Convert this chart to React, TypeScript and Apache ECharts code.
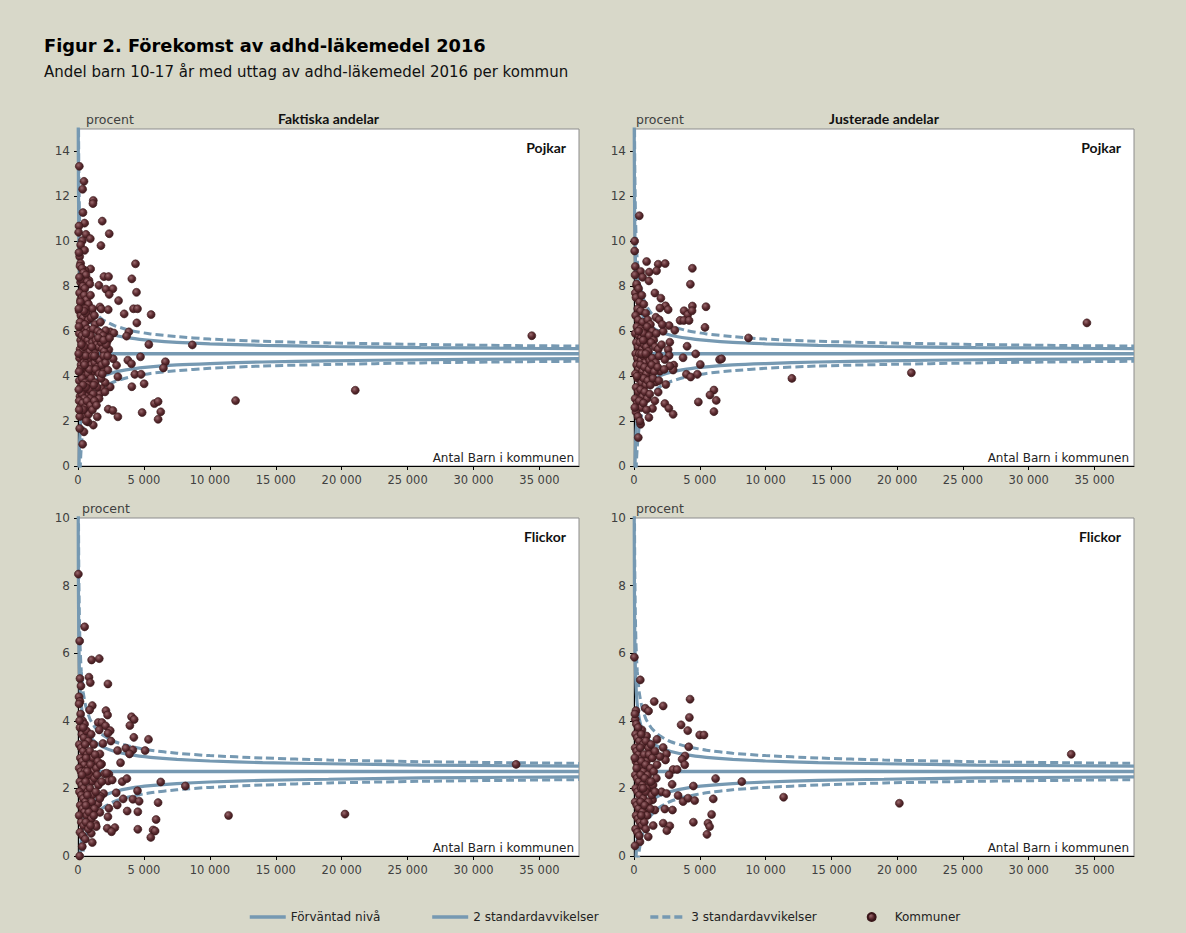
import React, { useEffect, useRef } from 'react';
import * as echarts from 'echarts';

// ---------- tick labels ----------
const xTicks = [0, 5000, 10000, 15000, 20000, 25000, 30000, 35000];
const boysYTicks = [0, 2, 4, 6, 8, 10, 12, 14];
const girlsYTicks = [0, 2, 4, 6, 8, 10];

// ---------- expected level and control limits ----------
const levelN = [0, 38000];
const boysLevel = [5.0, 5.0];
const girlsLevel = [2.5, 2.5];

const curveN = [10, 20, 35, 60, 100, 160, 250, 400, 600, 900, 1300, 1900, 2800, 4000, 5500, 7500, 10000, 14000, 19000, 26000, 33000, 38000];
const boysUpper2 = [18.79, 14.75, 12.37, 10.63, 9.36, 8.45, 7.76, 7.18, 6.78, 6.45, 6.21, 6.0, 5.82, 5.69, 5.59, 5.5, 5.44, 5.37, 5.32, 5.27, 5.24, 5.22];
const boysLower2 = [-8.79, -4.75, -2.37, -0.63, 0.64, 1.55, 2.24, 2.82, 3.22, 3.55, 3.79, 4.0, 4.18, 4.31, 4.41, 4.5, 4.56, 4.63, 4.68, 4.73, 4.76, 4.78];
const boysUpper3 = [25.68, 19.62, 16.05, 13.44, 11.54, 10.17, 9.14, 8.27, 7.67, 7.18, 6.81, 6.5, 6.24, 6.03, 5.88, 5.76, 5.65, 5.55, 5.48, 5.41, 5.36, 5.34];
const boysLower3 = [-15.68, -9.62, -6.05, -3.44, -1.54, -0.17, 0.86, 1.73, 2.33, 2.82, 3.19, 3.5, 3.76, 3.97, 4.12, 4.24, 4.35, 4.45, 4.52, 4.59, 4.64, 4.66];
const girlsUpper2 = [12.37, 9.48, 7.77, 6.53, 5.62, 4.97, 4.47, 4.06, 3.77, 3.54, 3.37, 3.22, 3.09, 2.99, 2.92, 2.86, 2.81, 2.76, 2.73, 2.69, 2.67, 2.66];
const girlsLower2 = [-7.37, -4.48, -2.77, -1.53, -0.62, 0.03, 0.53, 0.94, 1.23, 1.46, 1.64, 1.78, 1.91, 2.01, 2.08, 2.14, 2.19, 2.24, 2.27, 2.31, 2.33, 2.34];
const girlsUpper3 = [17.3, 12.97, 10.41, 8.54, 7.18, 6.2, 5.46, 4.84, 4.41, 4.06, 3.8, 3.57, 3.38, 3.24, 3.13, 3.04, 2.97, 2.9, 2.84, 2.79, 2.76, 2.74];
const girlsLower3 = [-12.3, -7.97, -5.41, -3.54, -2.18, -1.2, -0.46, 0.16, 0.59, 0.94, 1.2, 1.43, 1.62, 1.76, 1.87, 1.96, 2.03, 2.1, 2.16, 2.21, 2.24, 2.26];

// ---------- municipalities: [number of children, percent] ----------
const boysActual = [
  [100, 13.34], [454, 12.67], [353, 12.32], [1160, 11.82], [1134, 11.68], [378, 11.28], [504, 10.81], [76, 10.68], [50, 10.4], [605, 10.31],
  [1840, 10.9], [2370, 10.34], [933, 10.12], [328, 10.03], [200, 9.84], [1740, 9.81], [504, 9.6], [4361, 9.0], [126, 9.32], [200, 9.02],
  [958, 8.77], [530, 8.7], [1966, 8.43], [2319, 8.43], [4084, 8.33], [832, 8.26], [200, 8.18], [580, 8.04], [1588, 8.04], [2118, 7.87],
  [2647, 7.89], [4437, 7.73], [2370, 7.64], [328, 7.84], [3076, 7.36], [200, 7.4], [706, 7.28], [1664, 7.08], [1765, 6.99], [2294, 6.96],
  [4210, 7.0], [4513, 7.0], [3504, 6.77], [5546, 6.74], [1084, 6.77], [227, 6.88], [4462, 6.37], [3857, 5.97], [3680, 5.78], [5370, 5.41],
  [8672, 5.39], [4740, 4.86], [3781, 4.71], [4059, 4.55], [6630, 4.64], [6479, 4.36], [4311, 4.08], [4790, 4.08], [3025, 3.97], [5017, 3.66],
  [4084, 3.53], [2445, 3.52], [2067, 3.71], [11950, 2.91], [5798, 2.78], [6075, 2.87], [6277, 2.41], [6075, 2.08], [4866, 2.38], [2294, 2.53],
  [2647, 2.47], [3025, 2.19], [1462, 2.19], [1160, 1.82], [756, 1.96], [454, 1.52], [353, 0.97], [126, 1.67], [2924, 4.48], [2672, 4.77],
  [2344, 5.18], [2219, 5.55], [2445, 5.97], [2722, 5.92], [2093, 6.03], [1916, 4.28], [2269, 4.27], [1790, 3.44], [1639, 3.21], [21030, 3.37],
  [34418, 5.8],
  [150, 8.9], [300, 8.8], [420, 8.6], [600, 8.5], [250, 8.3], [700, 8.2], [380, 8.0], [900, 8.1], [520, 7.9],
  [120, 7.7], [330, 7.5], [480, 7.6], [650, 7.4], [800, 7.2], [260, 7.1], [950, 7.6], [1100, 7.0], [560, 7.0], [180, 7.3],
  [90, 6.9], [220, 6.7], [400, 6.6], [600, 6.8], [780, 6.5], [1000, 6.6], [1300, 6.3], [150, 6.4], [350, 6.2], [520, 6.3],
  [700, 6.1], [900, 6.0], [1150, 6.1], [1500, 6.0], [1700, 5.9], [1900, 5.8], [250, 6.0], [450, 6.9], [1250, 6.7],
  [100, 5.9], [200, 5.6], [300, 5.8], [420, 5.5], [550, 5.7], [650, 5.3], [750, 5.6], [850, 5.4], [980, 5.8], [1100, 5.5],
  [1200, 5.2], [1350, 5.6], [1450, 5.4], [1600, 5.3], [1750, 5.5], [1850, 5.2], [2000, 5.1], [160, 5.2], [380, 5.1], [480, 5.3],
  [700, 5.0], [900, 5.1], [1050, 5.3], [1300, 5.0], [1550, 5.7], [2150, 5.4], [260, 5.4], [600, 5.9],
  [120, 4.8], [230, 4.5], [340, 4.9], [450, 4.6], [560, 4.3], [680, 4.7], [800, 4.4], [920, 4.8], [1020, 4.5], [1150, 4.2],
  [1280, 4.6], [1400, 4.8], [1500, 4.4], [1650, 4.7], [1800, 4.5], [1950, 4.9], [2100, 4.6], [300, 4.2], [420, 4.0], [600, 4.9],
  [750, 4.1], [880, 4.3], [1100, 4.9], [1350, 4.3], [1600, 4.1], [180, 4.3], [500, 4.5], [1250, 4.9],
  [100, 3.8], [200, 3.5], [320, 3.9], [430, 3.3], [540, 3.7], [650, 3.1], [760, 3.6], [880, 3.4], [1000, 3.9], [1150, 3.2],
  [1300, 3.7], [1450, 3.5], [1600, 3.0], [1750, 3.9], [150, 3.1], [280, 3.2], [600, 3.5], [900, 3.0], [1200, 3.6], [380, 3.6], [480, 3.0],
  [90, 2.9], [180, 2.6], [260, 2.4], [350, 2.8], [450, 2.2], [560, 2.6], [680, 2.9], [800, 2.3], [950, 2.7], [1100, 2.5],
  [1250, 2.9], [130, 2.2], [620, 2.0], [400, 2.5],
  [60, 7.0], [70, 6.2], [50, 5.0], [80, 4.2], [60, 3.4], [90, 2.5], [70, 9.5], [110, 8.4],
  [1700, 6.4], [1950, 5.6], [2250, 4.9], [1850, 4.1], [2050, 3.3], [1400, 2.7], [2400, 5.7]
];

const boysAdjusted = [
  [403, 11.14], [50, 10.01], [50, 9.57], [958, 9.1], [1840, 8.98], [2370, 9.01], [4437, 8.8], [100, 8.88], [504, 8.66], [1160, 8.63],
  [1714, 8.69], [655, 8.4], [1134, 8.24], [4286, 8.09], [200, 8.02], [1588, 7.7], [2042, 7.47], [100, 7.7], [2395, 7.13], [5470, 7.09],
  [4437, 7.12], [1966, 7.03], [2597, 6.96], [3807, 6.91], [4084, 6.74], [4412, 6.91], [3504, 6.48], [3781, 6.48], [4185, 6.48], [1664, 6.62],
  [1916, 6.51], [2672, 6.25], [3100, 6.04], [5395, 6.17], [8700, 5.7], [2218, 6.0], [4034, 5.33], [4689, 4.99], [3731, 4.82], [5042, 4.52],
  [6504, 4.74], [6655, 4.77], [3025, 4.49], [2975, 4.27], [3983, 4.08], [4311, 3.96], [4815, 4.08], [2420, 3.63], [6075, 3.38], [5773, 3.16],
  [6252, 2.92], [4891, 2.85], [6075, 2.42], [2344, 2.78], [2647, 2.57], [2975, 2.3], [1134, 2.16], [504, 1.86], [328, 1.27], [1412, 2.56],
  [1588, 2.9], [1840, 3.29], [1664, 3.74], [2722, 5.51], [2597, 5.18], [2672, 4.92], [2722, 4.45], [2344, 4.74], [1966, 4.22], [1336, 4.0],
  [12000, 3.9], [21080, 4.15], [34420, 6.37],
  [80, 8.5], [200, 8.1], [350, 7.9], [150, 7.5], [420, 7.3], [600, 7.6], [280, 7.0], [750, 7.2], [500, 6.9], [900, 6.8],
  [120, 6.7], [320, 6.5], [650, 6.4], [1050, 6.5], [1250, 6.3], [220, 6.2], [480, 6.1], [800, 6.0], [1000, 6.2], [1400, 6.0],
  [100, 5.9], [380, 5.8], [560, 5.7], [720, 5.9], [880, 5.6], [1150, 5.8], [1500, 5.6], [1700, 5.9], [180, 5.5], [300, 5.3],
  [450, 5.5], [620, 5.2], [780, 5.4], [950, 5.3], [1100, 5.1], [1300, 5.5], [1600, 5.3], [1850, 5.2], [130, 5.0], [260, 4.8],
  [400, 5.0], [540, 4.7], [700, 4.9], [850, 4.6], [1000, 4.9], [1200, 4.7], [1400, 4.8], [1650, 4.6], [1900, 4.9], [200, 4.5],
  [340, 4.3], [480, 4.5], [640, 4.2], [800, 4.4], [950, 4.1], [1150, 4.3], [1350, 4.5], [1550, 4.2], [1800, 4.4], [110, 4.1],
  [280, 3.9], [420, 4.0], [580, 3.7], [740, 3.9], [900, 3.6], [1050, 3.8], [1250, 3.6], [1450, 3.9], [160, 3.5], [320, 3.3],
  [500, 3.4], [660, 3.1], [820, 3.3], [1000, 3.0], [1200, 3.2], [90, 3.0], [240, 2.8], [400, 2.9], [560, 2.6], [720, 2.8],
  [950, 2.5], [150, 2.4], [300, 2.2], [450, 2.0], [60, 2.6], [700, 5.6], [350, 6.0], [580, 5.0], [900, 5.0], [230, 4.0],
  [2100, 5.4], [2300, 4.3], [1900, 3.8], [2150, 6.3]
];

const girlsActual = [
  [30, 8.34], [504, 6.78], [126, 6.36], [1034, 5.8], [1613, 5.84], [151, 5.25], [832, 5.29], [933, 5.13], [2269, 5.09], [227, 5.03],
  [76, 4.71], [151, 4.57], [1084, 4.45], [882, 4.32], [2118, 4.3], [2244, 4.17], [4059, 4.12], [4260, 4.04], [3933, 3.86], [1538, 3.95],
  [1815, 3.95], [2093, 3.85], [2445, 3.71], [1613, 3.73], [4235, 3.51], [5345, 3.45], [2496, 3.4], [1891, 3.33], [3000, 3.12], [3630, 3.19],
  [4160, 3.14], [5092, 3.12], [3907, 3.02], [3227, 2.76], [2344, 2.42], [2017, 2.43], [3353, 2.2], [3706, 2.29], [6277, 2.19], [8143, 2.07],
  [4513, 1.93], [2899, 1.87], [3429, 1.69], [4160, 1.68], [4639, 1.62], [6076, 1.58], [2975, 1.51], [2344, 1.41], [3731, 1.33], [4538, 1.31],
  [2269, 1.16], [5924, 1.08], [2218, 0.82], [2798, 0.84], [2546, 0.72], [4538, 0.79], [5697, 0.77], [5848, 0.74], [5521, 0.55], [1084, 0.4],
  [328, 0.28], [126, 0.0], [1664, 3.02], [1412, 2.67], [1790, 2.72], [2168, 2.45], [2294, 2.22], [2597, 2.25], [1941, 1.85], [1714, 1.76],
  [1513, 1.54], [1664, 1.29], [1336, 0.94], [1008, 0.67], [1387, 0.87], [2269, 3.63],
  [11420, 1.2], [20250, 1.24], [33230, 2.71],
  [80, 4.5], [200, 4.2], [350, 4.0], [500, 3.9], [150, 3.8], [300, 3.6], [450, 3.5], [650, 3.7], [800, 3.4], [1000, 3.6],
  [1200, 3.3], [100, 3.3], [250, 3.2], [400, 3.1], [550, 3.3], [700, 3.0], [900, 3.1], [1100, 2.9], [1300, 3.0], [1500, 2.8],
  [180, 2.9], [320, 2.8], [480, 2.7], [620, 2.9], [760, 2.6], [950, 2.7], [1150, 2.5], [1400, 2.6], [1700, 2.7], [90, 2.6],
  [230, 2.5], [380, 2.4], [520, 2.5], [680, 2.3], [850, 2.4], [1050, 2.2], [1250, 2.3], [1550, 2.1], [1800, 2.2], [140, 2.2],
  [290, 2.1], [430, 2.0], [580, 2.2], [740, 1.9], [920, 2.0], [1100, 1.8], [1350, 1.9], [1650, 1.7], [110, 1.9], [260, 1.8],
  [400, 1.7], [560, 1.6], [720, 1.8], [880, 1.5], [1050, 1.6], [1250, 1.4], [170, 1.5], [340, 1.4], [500, 1.3], [660, 1.2],
  [820, 1.3], [1000, 1.1], [1200, 1.2], [90, 1.2], [250, 1.0], [420, 0.9], [600, 1.0], [780, 0.8], [150, 0.7], [350, 0.6],
  [550, 0.5], [950, 0.9], [120, 4.0], [400, 3.8], [700, 2.5], [300, 2.4], [1450, 2.4], [600, 1.5]
];

const girlsAdjusted = [
  [30, 5.88], [479, 5.21], [1538, 4.57], [2219, 4.44], [857, 4.37], [1109, 4.29], [4260, 4.64], [151, 4.3], [4210, 4.1], [100, 4.04],
  [3580, 3.88], [4084, 3.71], [4992, 3.58], [5319, 3.58], [605, 3.73], [958, 3.55], [1739, 3.45], [4160, 3.23], [2219, 3.21], [2470, 3.02],
  [3882, 2.96], [3655, 2.86], [3857, 2.7], [2975, 2.56], [3277, 2.56], [6202, 2.29], [8193, 2.2], [2900, 2.12], [4513, 2.07], [3353, 1.79],
  [3731, 1.61], [4109, 1.71], [4613, 1.64], [6025, 1.69], [2924, 1.36], [2344, 1.39], [5899, 1.23], [4513, 1.0], [2219, 0.97], [2722, 0.89],
  [2496, 0.75], [5622, 0.97], [5748, 0.87], [5546, 0.64], [1084, 0.57], [454, 0.42], [76, 0.3], [1462, 0.9], [1588, 1.36], [1412, 1.66],
  [2093, 1.9], [2470, 1.85], [2672, 2.4], [2395, 2.84], [1966, 2.94], [1336, 2.0], [832, 1.26],
  [11370, 1.74], [20170, 1.56], [33230, 3.01],
  [70, 4.2], [180, 3.9], [320, 3.8], [120, 3.6], [250, 3.5], [400, 3.4], [550, 3.6], [700, 3.3], [900, 3.4], [1100, 3.2],
  [1300, 3.3], [90, 3.2], [200, 3.1], [350, 3.0], [480, 3.2], [620, 2.9], [780, 3.0], [950, 2.8], [1150, 3.0], [1400, 2.9],
  [1600, 3.1], [150, 2.8], [280, 2.7], [420, 2.6], [560, 2.8], [720, 2.5], [880, 2.7], [1050, 2.4], [1250, 2.6], [1500, 2.5],
  [1750, 2.7], [100, 2.4], [230, 2.3], [370, 2.2], [500, 2.4], [650, 2.1], [820, 2.3], [1000, 2.0], [1200, 2.2], [1450, 2.1],
  [1700, 2.3], [130, 2.0], [270, 1.9], [410, 1.8], [560, 2.0], [720, 1.7], [900, 1.9], [1100, 1.6], [1350, 1.8], [1600, 1.9],
  [90, 1.6], [210, 1.5], [350, 1.4], [500, 1.6], [650, 1.3], [820, 1.5], [1000, 1.2], [1250, 1.4], [160, 1.2], [300, 1.1],
  [450, 1.0], [600, 0.9], [780, 1.0], [120, 0.8], [260, 0.7], [400, 0.6], [900, 0.8], [60, 2.9], [200, 2.6], [1300, 2.2],
  [700, 2.0], [550, 1.2]
];

// ---------- texts ----------
const titleText = 'Figur 2. Förekomst av adhd-läkemedel 2016';
const subtitleText = 'Andel barn 10-17 år med uttag av adhd-läkemedel 2016 per kommun';
const legendNames = ['Förväntad nivå', '2 standardavvikelser', '3 standardavvikelser', 'Kommuner'];

const LINE = '#7699b2';
const SANS = '"DejaVu Sans", sans-serif';
const BOLD = 'Lato, "DejaVu Sans", sans-serif';

const pair = (xs: number[], ys: number[]) => xs.map((x, i) => [x, ys[i]]);
const fmtX = (v: number) => String(v).replace(/\B(?=(\d{3})+(?!\d))/g, ' ');

export default function App() {
  const ref = useRef<HTMLDivElement>(null);

  useEffect(() => {
    if (!ref.current) return;
    const chart = echarts.init(ref.current, undefined, { renderer: 'svg' });

    const panels = [
      { left: 78, top: 129, width: 501, height: 337, yMax: 15, yTicks: boysYTicks, points: boysActual, level: boysLevel, u2: boysUpper2, l2: boysLower2, u3: boysUpper3, l3: boysLower3, head: 'Faktiska andelar', sex: 'Pojkar' },
      { left: 634, top: 129, width: 500, height: 337, yMax: 15, yTicks: boysYTicks, points: boysAdjusted, level: boysLevel, u2: boysUpper2, l2: boysLower2, u3: boysUpper3, l3: boysLower3, head: 'Justerade andelar', sex: 'Pojkar' },
      { left: 78, top: 518, width: 501, height: 338, yMax: 10, yTicks: girlsYTicks, points: girlsActual, level: girlsLevel, u2: girlsUpper2, l2: girlsLower2, u3: girlsUpper3, l3: girlsLower3, head: '', sex: 'Flickor' },
      { left: 634, top: 518, width: 500, height: 338, yMax: 10, yTicks: girlsYTicks, points: girlsAdjusted, level: girlsLevel, u2: girlsUpper2, l2: girlsLower2, u3: girlsUpper3, l3: girlsLower3, head: '', sex: 'Flickor' },
    ];

    const dotColor = new echarts.graphic.RadialGradient(0.38, 0.35, 0.65, [
      { offset: 0, color: '#9a6a6e' },
      { offset: 0.55, color: '#5e2d32' },
      { offset: 1, color: '#3e1a1e' },
    ]);

    const dashed = [8, 4];
    const series: any[] = [];
    panels.forEach((p, i) => {
      const base = { xAxisIndex: i, yAxisIndex: i, symbol: 'none', silent: true, clip: true };
      series.push({ ...base, type: 'line', name: legendNames[0], data: pair(levelN, p.level), lineStyle: { color: LINE, width: 3.5 }, itemStyle: { color: LINE }, z: 2 });
      series.push({ ...base, type: 'line', name: legendNames[1], data: pair(curveN, p.u2), smooth: 0.2, lineStyle: { color: LINE, width: 3.2 }, itemStyle: { color: LINE }, z: 2 });
      series.push({ ...base, type: 'line', name: legendNames[1], data: pair(curveN, p.l2), smooth: 0.2, lineStyle: { color: LINE, width: 3.2 }, itemStyle: { color: LINE }, z: 2 });
      series.push({ ...base, type: 'line', name: legendNames[2], data: pair(curveN, p.u3), smooth: 0.2, lineStyle: { color: LINE, width: 3, type: dashed }, itemStyle: { color: LINE }, z: 2 });
      series.push({ ...base, type: 'line', name: legendNames[2], data: pair(curveN, p.l3), smooth: 0.2, lineStyle: { color: LINE, width: 3, type: dashed }, itemStyle: { color: LINE }, z: 2 });
      series.push({
        type: 'scatter', name: legendNames[3], xAxisIndex: i, yAxisIndex: i, data: p.points, symbol: 'circle', symbolSize: 8,
        itemStyle: { color: dotColor, borderColor: '#3a171a', borderWidth: 0.6, opacity: 1 }, z: 5, silent: true,
      });
    });

    const graphics: any[] = [];
    panels.forEach((p) => {
      graphics.push({ type: 'text', left: p.left + (p.left < 100 ? (p.top < 300 ? 8 : 4) : 2), top: p.top - 16, style: { text: 'procent', font: `12.5px ${SANS}`, fill: '#404040' } });
      if (p.head) {
        graphics.push({ type: 'text', x: p.left + p.width / 2, y: p.top - 4, style: { text: p.head, font: `bold 14px ${BOLD}`, fill: '#111', textAlign: 'center', textVerticalAlign: 'bottom' } });
      }
      graphics.push({ type: 'text', x: p.left + p.width - 13, y: p.top + 18, z: 10, style: { text: p.sex, font: `bold 14px ${BOLD}`, fill: '#111', textAlign: 'right', textVerticalAlign: 'middle' } });
      graphics.push({ type: 'text', x: p.left + p.width - 5, y: p.top + p.height - 8, z: 10, style: { text: 'Antal Barn i kommunen', font: `12px ${SANS}`, fill: '#222', textAlign: 'right', textVerticalAlign: 'middle' } });
    });

    const noSymbol = { opacity: 0 };
    chart.setOption({
      animation: false,
      backgroundColor: '#d8d8c9',
      title: {
        text: titleText, subtext: subtitleText, left: 39, top: 31, itemGap: 10,
        textStyle: { fontFamily: SANS, fontWeight: 'bold', fontSize: 17.8, color: '#000' },
        subtextStyle: { fontFamily: SANS, fontSize: 15, color: '#111' },
      },
      legend: {
        data: [
          { name: legendNames[0], itemStyle: noSymbol, lineStyle: { width: 3.5, color: LINE } },
          { name: legendNames[1], itemStyle: noSymbol, lineStyle: { width: 3.5, color: LINE } },
          { name: legendNames[2], itemStyle: noSymbol, lineStyle: { width: 3.5, color: LINE, type: dashed } },
          { name: legendNames[3] },
        ],
        left: 243, top: 906, itemWidth: 36, itemHeight: 8, itemGap: 50,
        textStyle: { fontFamily: SANS, fontSize: 12, color: '#222' }, selectedMode: false,
      },
      grid: panels.map((p) => ({ left: p.left, top: p.top, width: p.width, height: p.height, show: true, backgroundColor: '#ffffff', borderColor: '#8c8c8c', borderWidth: 1 })),
      xAxis: panels.map((p, i) => ({
        type: 'value', gridIndex: i, min: 0, max: 38000, interval: 5000,
        axisLine: { show: true, onZero: false, lineStyle: { color: '#000', width: 1 } },
        axisTick: { show: true, length: 4, lineStyle: { color: '#000' }, customValues: xTicks },
        axisLabel: { customValues: xTicks, formatter: (v: number) => fmtX(v), color: '#404040', fontFamily: SANS, fontSize: 11.5, margin: 8 },
        splitLine: { show: false },
      })),
      yAxis: panels.map((p, i) => ({
        type: 'value', gridIndex: i, min: 0, max: p.yMax, interval: 2,
        axisLine: { show: true, onZero: false, lineStyle: { color: '#000', width: 1 } },
        axisTick: { show: true, length: 4, lineStyle: { color: '#000' }, customValues: p.yTicks },
        axisLabel: { customValues: p.yTicks, color: '#404040', fontFamily: SANS, fontSize: 12, margin: 8 },
        splitLine: { show: false },
      })),
      series,
      graphic: graphics,
    });

    return () => chart.dispose();
  }, []);

  return <div ref={ref} style={{ position: 'absolute', left: 0, top: 0, width: 1186, height: 933 }} />;
}
